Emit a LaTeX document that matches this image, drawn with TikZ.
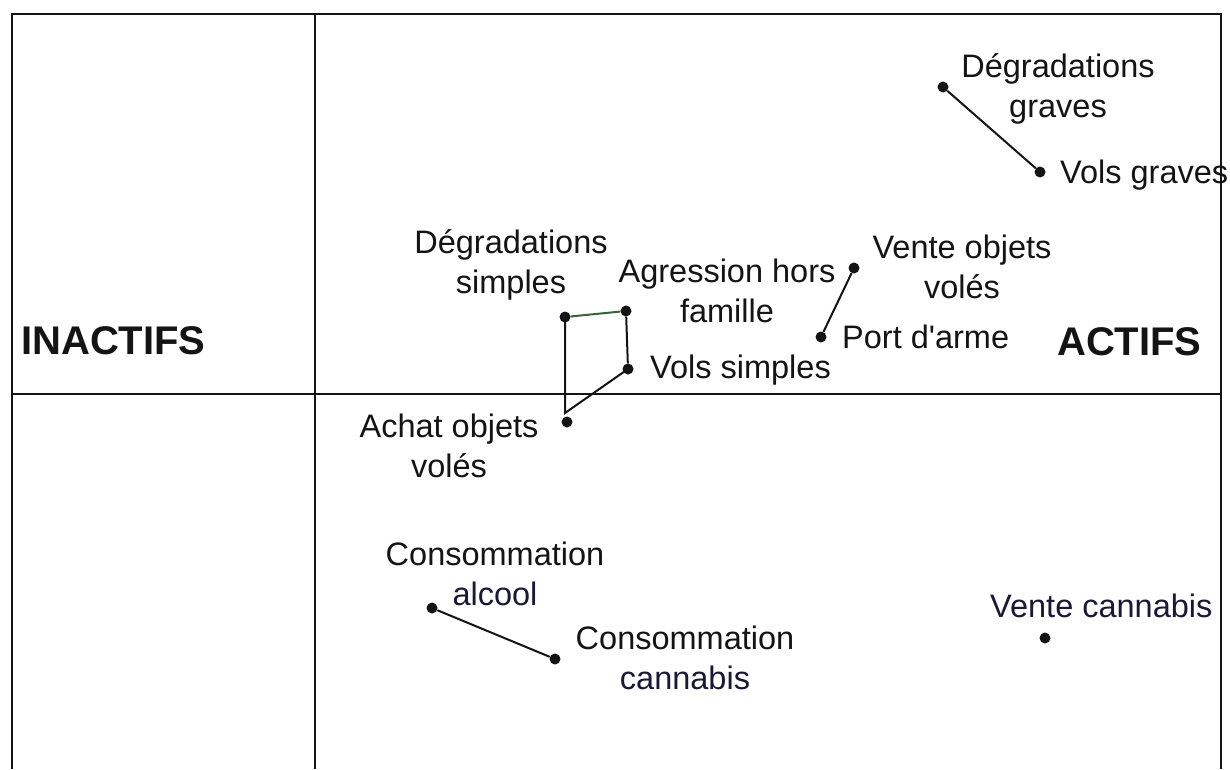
\documentclass[tikz,border=0pt]{standalone}
\usepackage{fontspec}
\setmainfont{Liberation Sans}
\definecolor{ink}{RGB}{20,20,20}
\definecolor{navy}{RGB}{25,25,55}
\definecolor{olive}{RGB}{60,100,60}
\begin{document}
\begin{tikzpicture}[x=1pt,y=-1pt,
  frameline/.style={draw=ink,line width=2pt},
  link/.style={draw=ink,line width=2pt},
  greenlink/.style={draw=olive,line width=2pt},
  dot/.style={circle,fill=ink,inner sep=0pt,minimum size=11pt},
  lbl/.style={font=\fontsize{32.5}{40}\selectfont,inner sep=0pt,align=center,text=ink},
  side/.style={font=\fontsize{40}{48}\selectfont\bfseries,inner sep=0pt,text=ink}]
\useasboundingbox (0,0) rectangle (1230,769);
\fill[white] (0,0) rectangle (1230,769);
% frame
\coordinate (tl) at (12,14);
\coordinate (tr) at (1221,14);
\coordinate (bl) at (12,769);
\coordinate (br) at (1221,769);
\coordinate (vt) at (315,14);
\coordinate (vb) at (315,769);
\coordinate (hl) at (12,394);
\coordinate (hr) at (1221,394);
\draw[frameline] (bl) -- (tl) -- (tr) -- (br);
\draw[frameline] (vt) -- (vb);
\draw[frameline] (hl) -- (hr);
% side labels
\node[side,anchor=base west] (inact) at (21,354) {INACTIFS};
\node[side,anchor=base west] (act) at (1057,355) {ACTIFS};
% dots
\node[dot] (dgr) at (943,87) {};
\node[dot] (vgr) at (1040,172) {};
\node[dot] (vov) at (854,268) {};
\node[dot] (pa) at (821,337) {};
\node[dot] (dgs) at (565,317) {};
\node[dot] (agr) at (626,311) {};
\node[dot] (vs) at (628,369) {};
\node[dot] (aov) at (567,422) {};
\node[dot] (ca) at (432,608) {};
\node[dot] (cc) at (555,659) {};
\node[dot] (vc) at (1045,638) {};
\coordinate (k) at (565,413);
% links
\draw[link] (dgr) -- (vgr);
\draw[link] (vov) -- (pa);
\draw[greenlink] (dgs) -- (agr);
\draw[link] (agr) -- (vs);
\draw[link] (dgs.center) -- (k) -- (vs.center);
\draw[link] (ca) -- (cc);
% labels (base anchor = baseline of last line)
\node[lbl,anchor=base] (tdgr) at (1058,117) {Dégradations\\graves};
\node[lbl,anchor=base west] (tvgr) at (1060,183) {Vols graves};
\node[lbl,anchor=base] (tvov) at (962,298) {Vente objets\\volés};
\node[lbl,anchor=base west] (tpa) at (842,348) {Port d\textquotesingle arme};
\node[lbl,anchor=base] (tdgs) at (511,293) {Dégradations\\simples};
\node[lbl,anchor=base] (tagr) at (727,322) {Agression hors\\famille};
\node[lbl,anchor=base west] (tvs) at (650,378) {Vols simples};
\node[lbl,anchor=base] (taov) at (449,477) {Achat objets\\volés};
\node[lbl,anchor=base] (tca) at (495,605) {Consommation\\\textcolor{navy}{alcool}};
\node[lbl,anchor=base] (tcc) at (685,689) {Consommation\\\textcolor{navy}{cannabis}};
\node[lbl,anchor=base west,text=navy] (tvc) at (990,617) {Vente cannabis};
\end{tikzpicture}
\end{document}
